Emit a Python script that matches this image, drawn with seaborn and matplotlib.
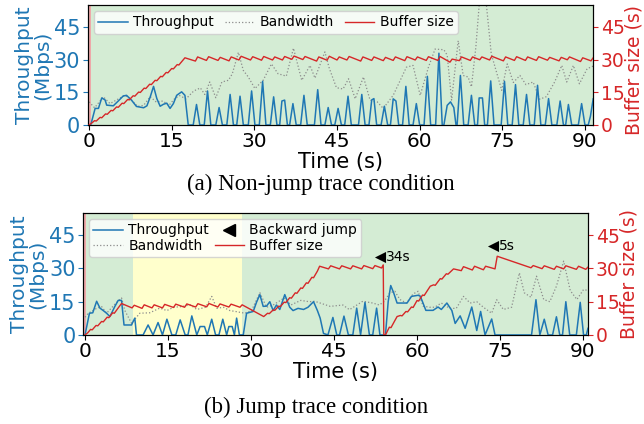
import matplotlib
matplotlib.use("Agg")
import matplotlib.pyplot as plt
import seaborn as sns
from matplotlib.lines import Line2D

# ---------------- data: (a) non-jump trace ----------------
a_thr_t = [0, 0.3, 1.1, 1.7, 2.3, 2.9, 3.2, 4.4, 5.3, 6.2, 6.8, 7.7, 8.6, 9.9, 10.5, 11.1, 11.7, 12.3,
           12.9, 13.5, 14.1, 14.7, 15.3, 15.9, 16.8, 17.4, 18.0,
           18.9, 19.5, 20.1, 20.9, 21.5, 22.1, 23.0, 23.6, 24.2, 25.0, 25.6, 26.2, 26.8, 27.4, 28.0,
           28.9, 29.5, 30.1, 30.9, 31.5, 32.1, 32.9, 33.5, 34.1, 34.6, 35.0, 35.5, 36.0, 36.4, 37.0, 37.6,
           38.4, 39.0, 39.6, 40.9, 41.5, 42.1, 42.8, 43.4, 44.0, 44.6, 45.2, 45.8, 46.4, 47.0, 47.6,
           48.9, 49.5, 50.1, 50.8, 51.3, 51.7, 52.2, 53.0, 53.6, 54.2, 54.7, 55.2, 55.7, 56.2,
           56.9, 57.5, 58.1, 58.8, 59.4, 60.0, 60.8, 61.4, 62.0, 62.9, 63.5, 64.1, 64.4, 65.0, 65.6, 66.2,
           66.6, 66.8, 67.4, 68.0, 68.8, 69.4, 70.0, 70.5, 70.8, 71.4, 71.8, 72.3, 72.9, 73.5,
           74.8, 75.4, 76.0, 76.8, 77.4, 78.0, 78.8, 79.4, 80.0, 80.8, 81.4, 82.0, 82.8, 83.4, 84.0,
           84.9, 85.5, 86.1, 86.5, 87.0, 87.6, 88.8, 89.4, 90.0, 90.6, 91.0, 91.5]
a_thr_v = [0, 0, 7.6, 7.6, 12.4, 11.5, 9.1, 8.8, 11.0, 13.3, 13.6, 11.4, 8.5, 7.9, 8.8, 12.9, 17.7, 12.1,
           8.6, 9.5, 10.0, 7.6, 9.8, 13.6, 15.2, 13.6, 0,
           0, 9.4, 0, 0, 15.6, 0, 0, 8.0, 0, 0, 14.0, 0, 0, 13.2, 0,
           0, 15.6, 0, 0, 20.0, 0, 0, 12.9, 0, 0, 11.0, 11.4, 0, 0, 9.8, 0,
           0, 13.6, 0, 0, 16.2, 0, 0, 8.0, 0, 0, 7.6, 0, 0, 13.2, 0,
           0, 14.0, 0, 0, 11.5, 12.1, 0, 0, 8.6, 0, 0, 12.0, 11.0, 0,
           0, 17.7, 0, 0, 9.8, 0, 0, 22.3, 0, 0, 32.9, 0, 0, 9.0, 10.6, 8.0,
           0, 0, 22.7, 0, 0, 13.6, 0, 0, 12.4, 12.4, 0, 0, 20.2, 0,
           0, 20.0, 0, 0, 18.5, 0, 0, 14.0, 0, 0, 18.2, 0, 0, 12.1, 0,
           0, 11.0, 0, 0, 9.4, 0, 0, 9.8, 0, 0, 4.0, 12.0]

a_bw_t = [0, 1.0, 2.6, 3.8, 5.0, 6.5, 7.5, 8.8, 9.9, 11.1, 12.2, 13.4, 14.5, 15.5, 16.4, 17.6, 19.0,
          20.2, 21.0, 21.9, 23.0, 24.1, 25.3, 26.0, 27.1, 28.0, 28.9, 30.1, 31.6, 33.1, 34.3, 35.8,
          37.1, 38.6, 40.1, 41.0, 42.8, 43.6, 44.9, 46.1, 47.1, 48.3, 49.8, 51.0, 52.3, 53.4, 55.2,
          57.6, 58.8, 60.1, 61.6, 62.8, 64.4, 65.0, 65.8, 67.0, 67.9, 68.8, 69.4, 70.2, 70.9, 72.0,
          73.0, 74.9, 75.9, 77.0, 78.2, 79.3, 80.6, 81.8, 83.0, 84.5, 85.8, 86.7, 87.9, 89.0, 90.4, 91.5]
a_bw_v = [10.6, 7.9, 12.9, 9.8, 11.5, 13.6, 12.0, 8.5, 9.0, 13.0, 10.5, 11.0, 9.0, 12.0, 13.5, 12.0, 15.6,
          17.0, 14.0, 19.7, 12.5, 19.7, 20.5, 23.5, 33.3, 25.0, 22.0, 16.7, 20.5, 28.0, 23.5, 22.4,
          35.2, 20.5, 27.3, 21.5, 33.5, 26.0, 17.1, 16.5, 21.2, 12.0, 22.0, 11.4, 10.6, 7.6, 13.6,
          26.5, 27.3, 13.6, 26.5, 34.8, 34.5, 32.0, 11.4, 38.6, 22.7, 22.0, 17.5, 35.6, 58.0, 58.0,
          32.6, 15.9, 28.0, 19.5, 22.7, 18.5, 19.7, 11.8, 13.0, 19.7, 27.3, 19.7, 27.3, 18.9, 25.8, 27.0]

a_buf_t = [0, 0.5, 1.0, 1.3, 2.0, 2.3, 3.0, 3.3, 4.0, 4.3, 5.0, 5.3, 6.0, 6.3, 7.0, 7.3, 8.0, 8.3,
           9.0, 9.3, 10.0, 10.3, 11.0, 11.3, 12.0, 12.3, 13.0, 13.3, 14.0, 14.3, 15.0, 15.3, 16.0,
           16.3, 17.0, 17.4,
           19.3, 19.7, 21.3, 21.7, 23.4, 23.8, 25.4, 25.8, 27.2, 27.6, 29.3, 29.7, 31.3, 31.7, 33.3,
           33.7, 35.1, 35.5, 36.8, 37.2, 38.8, 39.2, 41.3, 41.7, 43.2, 43.6, 45.0, 45.4, 46.8, 47.2,
           49.3, 49.7, 51.3, 51.7, 53.4, 53.8, 55.2, 55.6, 57.3, 57.7, 59.2, 59.6, 61.2, 61.6, 63.3,
           63.7, 65.5, 65.9, 67.2, 67.6, 69.2, 69.6, 70.9, 71.3, 72.7, 73.1, 75.2, 75.6, 77.2, 77.6,
           79.2, 79.6, 81.2, 81.6, 83.2, 83.6, 85.3, 85.7, 86.8, 87.2, 89.2, 89.6, 91.1, 91.5]
a_buf_v = [0, 0.9, 2.0, 1.8, 3.5, 3.3, 5.1, 4.9, 6.7, 6.5, 8.3, 8.1, 10.0, 9.8, 11.7, 11.5, 13.4, 13.2,
           15.1, 14.9, 16.9, 16.7, 18.7, 18.5, 20.5, 20.3, 22.3, 22.1, 24.1, 23.9, 25.9, 25.7, 27.7,
           27.5, 29.6, 30.8,
           29.3, 31.2, 29.6, 31.3, 29.6, 31.0, 29.4, 31.2, 29.8, 31.5, 29.8, 31.3, 29.7, 31.4, 29.8,
           31.2, 29.8, 31.4, 30.1, 31.6, 30.0, 31.4, 29.3, 31.2, 29.7, 31.5, 29.8, 31.2, 29.8, 31.4,
           29.3, 31.2, 29.6, 31.2, 29.5, 31.0, 29.6, 31.2, 29.5, 31.3, 29.8, 31.2, 29.6, 31.3, 29.6,
           31.4, 28.8, 30.2, 29.5, 31.2, 29.6, 31.2, 29.9, 31.2, 29.8, 31.5, 29.4, 31.2, 29.6, 31.3,
           29.6, 31.2, 29.6, 31.3, 29.7, 31.0, 29.4, 31.0, 29.9, 31.2, 29.1, 30.8, 29.4, 30.8]

# ---------------- data: (b) jump trace ----------------
b_thr_t = [0, 0.8, 1.4, 2.1, 2.7, 3.3, 3.9, 4.5, 5.4, 6.0, 6.6, 7.05, 8.4, 9.0, 9.3, 10.5, 11.4, 12.3,
           13.2, 14.0, 14.8, 15.7, 16.4, 17.2, 18.1, 18.6, 19.3, 20.2, 20.8, 21.6, 22.1, 22.9, 23.6,
           24.2, 24.9, 25.6, 26.0, 26.6, 27.0, 27.4, 27.9, 28.6, 29.2, 30.4, 31.0, 31.6, 32.2, 32.8,
           33.4, 34.0, 34.6, 35.2, 36.1, 37.0, 37.6, 38.5, 39.5, 40.3, 41.3, 42.0, 42.5, 43.1, 43.9,
           44.8, 45.5, 46.0, 46.8, 47.6, 48.4, 49.1, 49.8, 50.6, 51.4, 52.0, 52.7, 53.3, 54.3, 54.8,
           55.25, 55.8, 56.4, 58.2, 59.0, 60.2, 60.6, 61.6, 62.9, 63.8, 64.4, 65.4, 66.3, 66.9, 67.8,
           68.7, 69.9, 70.8, 71.5, 72.0, 72.3, 73.5, 74.1, 80.7, 81.5, 82.2, 83.0, 83.7, 84.5, 85.2,
           85.8, 86.3, 86.9, 87.6, 88.8, 89.5, 90.1, 90.6, 90.9]
b_thr_v = [0, 9.8, 10.0, 15.2, 12.1, 11.0, 9.8, 8.3, 12.9, 15.6, 15.6, 4.5, 4.5, 7.6, 0, 0, 4.5, 0,
           5.6, 0, 7.1, 0, 0, 6.8, 0, 0, 8.6, 0, 3.8, 3.8, 0, 7.1, 0,
           0, 7.1, 0, 3.8, 3.8, 0, 7.6, 0, 0, 9.8, 10.6, 14.8, 18.2, 12.9, 13.0,
           15.0, 11.0, 13.5, 11.5, 18.2, 12.5, 11.0, 12.0, 11.5, 12.5, 15.0, 11.0, 7.6, 0.7, 0,
           7.9, 0, 0, 8.5, 0, 0, 12.1, 0, 14.7, 0, 0, 12.1, 0, 0, 15.2,
           22.3, 18.9, 14.4, 14.4, 17.4, 17.9, 17.5, 11.1, 11.1, 12.6, 11.5, 14.4, 11.0, 5.2, 8.6,
           3.0, 12.6, 2.0, 10.6, 4.0, 0, 7.2, 0, 0, 15.9, 0, 7.1, 0, 0, 8.2,
           0, 0, 15.0, 0, 0, 14.7, 0, 0, 3.0]

b_bw_t = [0, 0.6, 2.1, 3.0, 3.9, 5.6, 6.6, 7.2, 8.4, 9.9, 11.7, 13.5, 14.8, 16.0, 17.5, 19.0, 20.2,
          21.8, 22.9, 23.8, 25.0, 26.2, 27.4, 28.9, 30.1, 31.6, 32.8, 34.0, 36.0, 37.2, 39.0, 40.5,
          41.5, 42.5, 44.3, 46.6, 47.8, 50.2, 52.0, 53.2, 54.1, 55.1, 56.0, 56.9, 58.1, 59.3, 60.2,
          61.1, 62.3, 63.2, 64.4, 65.9, 67.1, 68.4, 69.6, 70.8, 72.0, 73.5, 74.4, 75.6, 77.1, 78.5,
          79.4, 80.6, 81.6, 82.9, 84.0, 85.2, 86.5, 87.7, 88.9, 90.1, 91.0]
b_bw_v = [8.0, 9.8, 12.0, 12.8, 9.8, 14.4, 16.7, 11.0, 5.3, 9.8, 10.0, 12.1, 11.0, 12.5, 12.8, 13.6, 11.5,
          12.5, 17.4, 12.0, 12.5, 11.0, 10.5, 9.8, 11.0, 19.1, 12.5, 13.5, 16.7, 13.5, 15.6, 15.0,
          15.2, 14.4, 12.9, 13.5, 11.4, 15.2, 14.4, 13.5, 15.2, 19.0, 19.7, 16.0, 14.4, 18.5, 19.7,
          13.0, 12.5, 12.5, 14.4, 12.0, 12.0, 17.4, 14.4, 15.0, 12.5, 9.8, 15.9, 11.5, 12.5, 28.0,
          19.0, 17.0, 26.5, 16.0, 15.0, 22.0, 33.3, 20.0, 16.0, 20.5, 20.0]

b_buf_t = [0, 0.5, 1.0, 1.3, 2.0, 2.3, 3.0, 3.3, 4.0, 4.3, 5.0, 5.3, 6.0, 6.6, 8.5, 8.9, 10.3, 10.7,
           12.1, 12.5, 14.0, 14.4, 16.0, 16.4, 18.0, 18.4, 20.0, 20.4, 22.0, 22.4, 24.0, 24.4, 26.0,
           26.4, 28.0, 28.4, 32.3, 33.0, 33.3, 34.0, 34.3, 35.0, 35.3, 36.0, 36.3, 37.0, 37.3, 38.0,
           38.3, 39.0, 39.3, 40.0, 40.3, 41.0, 41.3, 42.0, 42.4, 44.0, 44.4, 46.0, 46.4, 48.0, 48.4,
           50.0, 50.4, 52.0, 52.4, 53.6, 53.9, 54.0, 54.3, 55.0, 55.3, 56.0, 56.4, 57.0, 57.3, 58.0,
           58.3, 59.0, 59.3, 60.0, 60.3, 61.0, 61.3, 62.0, 62.4, 63.0, 63.3, 64.2, 64.5, 65.3, 65.6,
           66.6, 68.0, 68.4, 70.0, 70.4, 72.0, 72.4, 74.1, 74.5, 80.6, 81.0, 82.6, 83.0, 84.8, 85.2,
           86.5, 86.9, 88.8, 89.2, 90.5, 90.9]
b_buf_v = [0, 1.0, 2.5, 2.3, 4.3, 4.1, 6.1, 5.9, 8.0, 7.8, 10.0, 9.8, 12.2, 14.2, 12.2, 13.4, 12.0, 13.6,
           12.2, 13.6, 12.2, 13.8, 12.4, 13.9, 12.5, 14.0, 12.6, 14.1, 12.7, 14.2, 12.6, 14.0, 12.6,
           13.9, 12.5, 13.6, 8.3, 9.8, 9.6, 11.3, 11.1, 13.0, 12.8, 14.8, 14.6, 16.8, 16.6, 19.0,
           18.8, 21.2, 21.0, 23.5, 23.3, 26.0, 25.8, 28.8, 31.0, 29.8, 31.2, 29.8, 31.2, 29.8, 31.2,
           29.8, 31.3, 29.9, 31.3, 30.2, 31.6, 0, 0, 3.5, 3.3, 6.5, 8.3, 8.8, 8.6, 10.6, 10.4,
           12.6, 12.4, 15.5, 15.3, 18.0, 17.8, 20.5, 22.0, 22.6, 22.4, 25.4, 25.2, 27.6, 27.4,
           29.8, 29.0, 30.8, 29.3, 31.0, 29.4, 31.0, 29.8, 35.5, 30.3, 31.3, 29.9, 31.2, 29.6, 31.0,
           29.8, 31.2, 29.6, 31.0, 29.6, 30.6]

jump_t = [53.3, 73.8]
jump_y = [35.1, 39.9]
jump_lbl = ["34s", "5s"]

yticks = [0, 15, 30, 45]
xticks = [0, 15, 30, 45, 60, 75, 90]

# ---------------- plotting ----------------
BLUE = "#1f77b4"
RED = "#d62728"
GREY = "#8c8c8c"

plt.rcParams["font.family"] = ["DejaVu Sans"]
fig = plt.figure(figsize=(6.44, 4.24), dpi=100)

XTICK_FS = 14.5
YTICK_FS = 15
Y2TICK_FS = 13.5
XLAB_FS = 15
YLAB_FS = 14.5
Y2LAB_FS = 13.5
LEG_FS = 10


def panel(rect, xlim, thr_t, thr_v, bw_t, bw_v, buf_t, buf_v, spans):
    ax = fig.add_axes(rect)
    for (x0, x1, c, a) in spans:
        ax.axvspan(x0, x1, color=c, alpha=a, lw=0, zorder=0)
    sns.lineplot(x=thr_t, y=thr_v, ax=ax, color=BLUE, linewidth=1.1,
                 estimator=None, sort=False, zorder=3)
    sns.lineplot(x=bw_t, y=bw_v, ax=ax, color=GREY, linewidth=0.9, linestyle=":",
                 estimator=None, sort=False, zorder=2)
    ax.set_xlim(*xlim)
    ax.set_ylim(0, 55)
    ax.set_yticks(yticks)
    ax.set_xticks(xticks)
    ax.tick_params(axis="y", colors=BLUE, labelsize=YTICK_FS, length=3.5, pad=2)
    ax.tick_params(axis="x", labelsize=XTICK_FS, length=3.5, pad=1.5)
    ax.set_xlabel("Time (s)", fontsize=XLAB_FS, labelpad=1)
    ax.set_ylabel("Throughput\n(Mbps)", fontsize=YLAB_FS, color=BLUE, labelpad=1, linespacing=0.95)
    ax2 = ax.twinx()
    sns.lineplot(x=buf_t, y=buf_v, ax=ax2, color=RED, linewidth=1.0,
                 estimator=None, sort=False, zorder=4)
    ax2.set_ylim(0, 55)
    ax2.set_yticks(yticks)
    ax2.tick_params(axis="y", colors=RED, labelsize=Y2TICK_FS, length=3.5, pad=2)
    ax2.set_ylabel("Buffer size (s)", fontsize=Y2LAB_FS, color=RED, labelpad=0)
    for sp in ax.spines.values():
        sp.set_color("black")
    return ax, ax2


# (a)
axa, axa2 = panel([0.1366, 0.7052, 0.7845, 0.283], (-0.2, 91.5),
                  a_thr_t, a_thr_v, a_bw_t, a_bw_v, a_buf_t, a_buf_v,
                  [(-0.2, 0.35, RED, 0.4), (0.35, 91.5, "tab:green", 0.2)])
axa2.yaxis.label.set_y(0.46)
h_thr = Line2D([], [], color=BLUE, lw=1.1)
h_bw = Line2D([], [], color=GREY, lw=0.9, ls=":")
h_buf = Line2D([], [], color=RED, lw=1.0)
h_jump = Line2D([], [], color="black", marker="<", ls="none", markersize=8)
axa2.legend([h_thr, h_bw, h_buf], ["Throughput", "Bandwidth", "Buffer size"],
            loc="upper left", ncol=3, fontsize=LEG_FS, framealpha=0.8,
            borderpad=0.3, labelspacing=0.2, columnspacing=0.8, handletextpad=0.4,
            handlelength=2.1, borderaxespad=0.45)

# (b)
axb, axb2 = panel([0.129, 0.21, 0.784, 0.2876], (-0.35, 90.9),
                  b_thr_t, b_thr_v, b_bw_t, b_bw_v, b_buf_t, b_buf_v,
                  [(-0.35, 0.25, RED, 0.4), (0.25, 8.6, "tab:green", 0.2),
                   (8.6, 28.4, "yellow", 0.2), (28.4, 90.9, "tab:green", 0.2)])
sns.scatterplot(x=jump_t, y=jump_y, ax=axb2, marker="<", color="black", s=64,
                edgecolor="black", linewidth=0, zorder=6)
for t, y, s in zip(jump_t, jump_y, jump_lbl):
    axb2.text(t + 1.0, y, s, fontsize=LEG_FS, va="center", ha="left")
axb2.legend([h_thr, h_bw, h_jump, h_buf],
            ["Throughput", "Bandwidth", "Backward jump", "Buffer size"],
            loc="upper left", ncol=2, fontsize=LEG_FS, framealpha=0.8,
            borderpad=0.3, labelspacing=0.1, columnspacing=0.4, handletextpad=0.4,
            handlelength=2.1, borderaxespad=0.45)

fig.text(0.498, 0.566, "(a) Non-jump trace condition", ha="center", va="center",
         fontsize=16.5, family="Liberation Serif")
fig.text(0.491, 0.04, "(b) Jump trace condition", ha="center", va="center",
         fontsize=16.5, family="Liberation Serif")

fig.savefig("out.png", dpi=100)
